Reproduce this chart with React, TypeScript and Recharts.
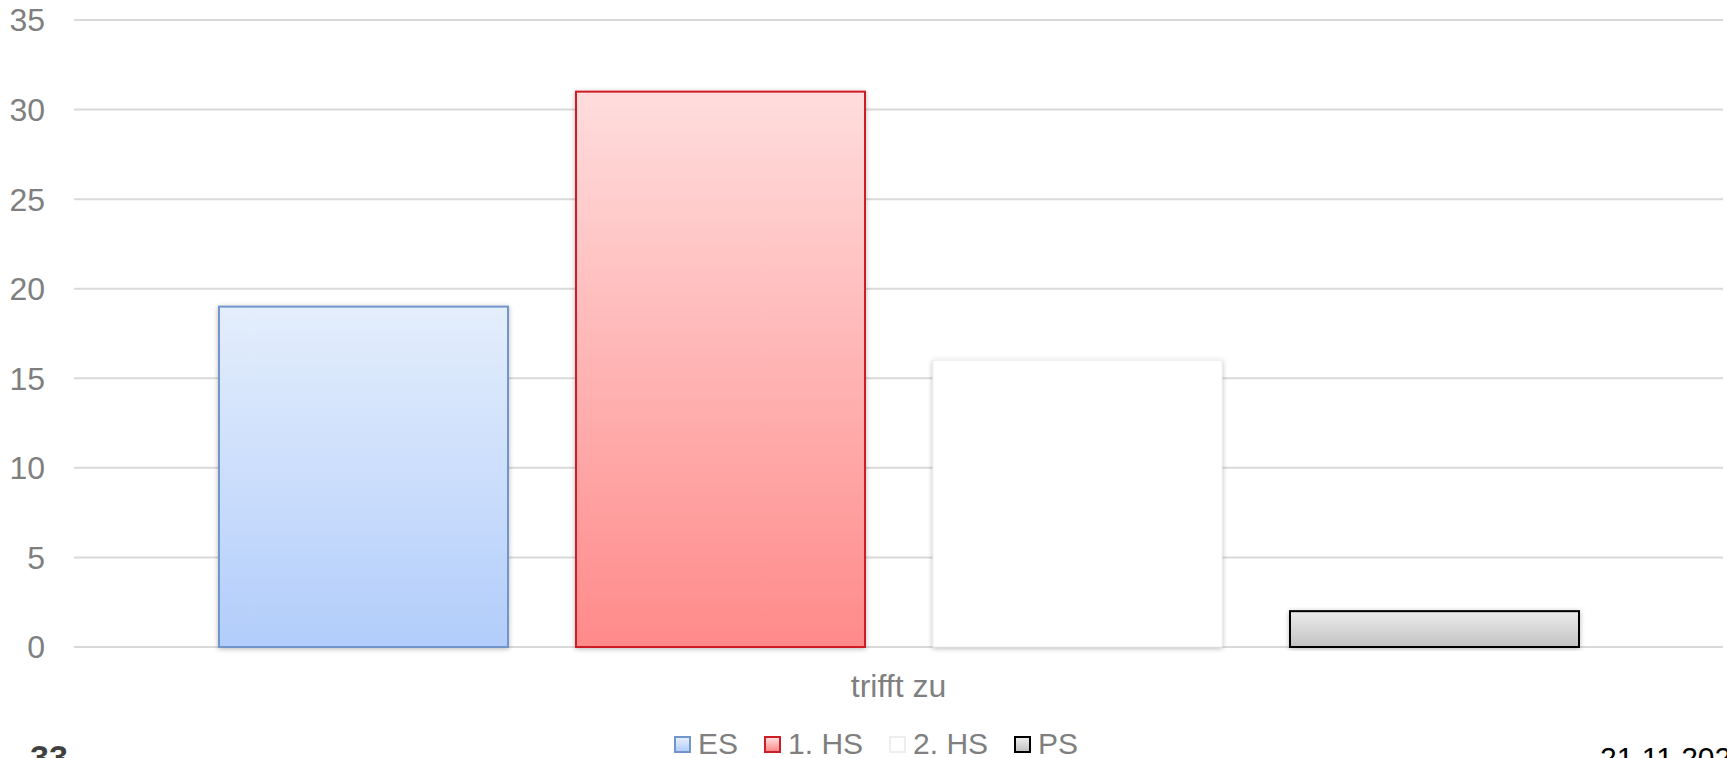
import React from 'react';
import { BarChart, Bar, XAxis, YAxis, CartesianGrid } from 'recharts';

const categories = ['trifft zu'];
const seriesNames = ['ES', '1. HS', '2. HS', 'PS'];
const esValues = [19];
const hs1Values = [31];
const hs2Values = [16];
const psValues = [2];
const yTicks = [0, 5, 10, 15, 20, 25, 30, 35];
const slideNumber = '33';
const slideDate = '21.11.2023';

const FONT = '"Liberation Sans", Arial, Helvetica, sans-serif';
const GREY = '#7F7F7F';

const seriesStyles = [
    { key: 'es', grad: 'gradES', top: '#E4EEFC', bottom: '#B2CDFB', stroke: '#7295CA', sw: 2 },
    { key: 'hs1', grad: 'gradHS1', top: '#FFDDDD', bottom: '#FF8A8A', stroke: '#CE1F28', sw: 2 },
    { key: 'hs2', grad: 'gradHS2', top: '#FFFFFF', bottom: '#FFFFFF', stroke: '#EEEEEE', sw: 1 },
    { key: 'ps', grad: 'gradPS', top: '#ECECEC', bottom: '#C2C2C2', stroke: '#000000', sw: 2 },
];

const data = categories.map((name, i) => ({
    name,
    es: esValues[i],
    hs1: hs1Values[i],
    hs2: hs2Values[i],
    ps: psValues[i],
}));

const ShadowBar = (props: any) => {
    const { x, y, width, height, fill, stroke, strokeWidth } = props;
    return (
        <rect
            x={x}
            y={y}
            width={width}
            height={height}
            fill={fill}
            stroke={stroke}
            strokeWidth={strokeWidth}
            filter="url(#barShadow)"
        />
    );
};

const LegendRow = () => (
    <div
        style={{
            position: 'absolute',
            left: 674,
            top: 731,
            display: 'flex',
            alignItems: 'center',
            fontFamily: FONT,
            fontSize: 30,
            lineHeight: '26px',
            color: GREY,
            whiteSpace: 'nowrap',
        }}
    >
        {seriesNames.map((n, i) => {
            const s = seriesStyles[i];
            return (
                <div key={n} style={{ display: 'flex', alignItems: 'center', marginRight: 26 }}>
                    <span
                        style={{
                            display: 'inline-block',
                            width: 13,
                            height: 13,
                            border: `2px solid ${s.stroke}`,
                            background: `linear-gradient(${s.top}, ${s.bottom})`,
                            marginRight: 7,
                        }}
                    />
                    <span>{n}</span>
                </div>
            );
        })}
    </div>
);

export default function App() {
    return (
        <div style={{ position: 'absolute', left: 0, top: 0, width: 1727, height: 758, overflow: 'hidden', background: '#fff' }}>
            <BarChart
                width={1727}
                height={758}
                data={data}
                margin={{ top: 20, right: 4, left: 0, bottom: 51 }}
                barSize={289}
                barGap={68}
            >
                <defs>
                    {seriesStyles.map(s => (
                        <linearGradient key={s.grad} id={s.grad} x1="0" y1="0" x2="0" y2="1">
                            <stop offset="0%" stopColor={s.top} />
                            <stop offset="100%" stopColor={s.bottom} />
                        </linearGradient>
                    ))}
                    <filter id="barShadow" x="-5%" y="-10%" width="110%" height="120%">
                        <feDropShadow dx="0" dy="1" stdDeviation="2.5" floodColor="#000" floodOpacity="0.28" />
                    </filter>
                </defs>
                <CartesianGrid vertical={false} stroke="#D9D9D9" strokeWidth={2} />
                <XAxis
                    dataKey="name"
                    height={60}
                    axisLine={false}
                    tickLine={false}
                    tickSize={0}
                    tickMargin={27}
                    tick={{ fontSize: 32, fill: GREY, fontFamily: FONT }}
                />
                <YAxis
                    width={74}
                    domain={[0, 35]}
                    ticks={yTicks}
                    axisLine={false}
                    tickLine={false}
                    tickSize={0}
                    tickMargin={29}
                    tick={{ fontSize: 32, fill: GREY, fontFamily: FONT }}
                />
                {seriesStyles.map((s, i) => (
                    <Bar
                        key={s.key}
                        dataKey={s.key}
                        name={seriesNames[i]}
                        fill={`url(#${s.grad})`}
                        stroke={s.stroke}
                        strokeWidth={s.sw}
                        shape={<ShadowBar />}
                        isAnimationActive={false}
                    />
                ))}
            </BarChart>
            <LegendRow />
            <div
                style={{
                    position: 'absolute',
                    left: 30,
                    top: 740,
                    fontFamily: FONT,
                    fontSize: 34,
                    lineHeight: '34px',
                    fontWeight: 'bold',
                    color: '#404040',
                }}
            >
                {slideNumber}
            </div>
            <div
                style={{
                    position: 'absolute',
                    left: 1600,
                    top: 743,
                    fontFamily: FONT,
                    fontSize: 30,
                    lineHeight: '30px',
                    color: '#000',
                    whiteSpace: 'nowrap',
                }}
            >
                {slideDate}
            </div>
        </div>
    );
}
